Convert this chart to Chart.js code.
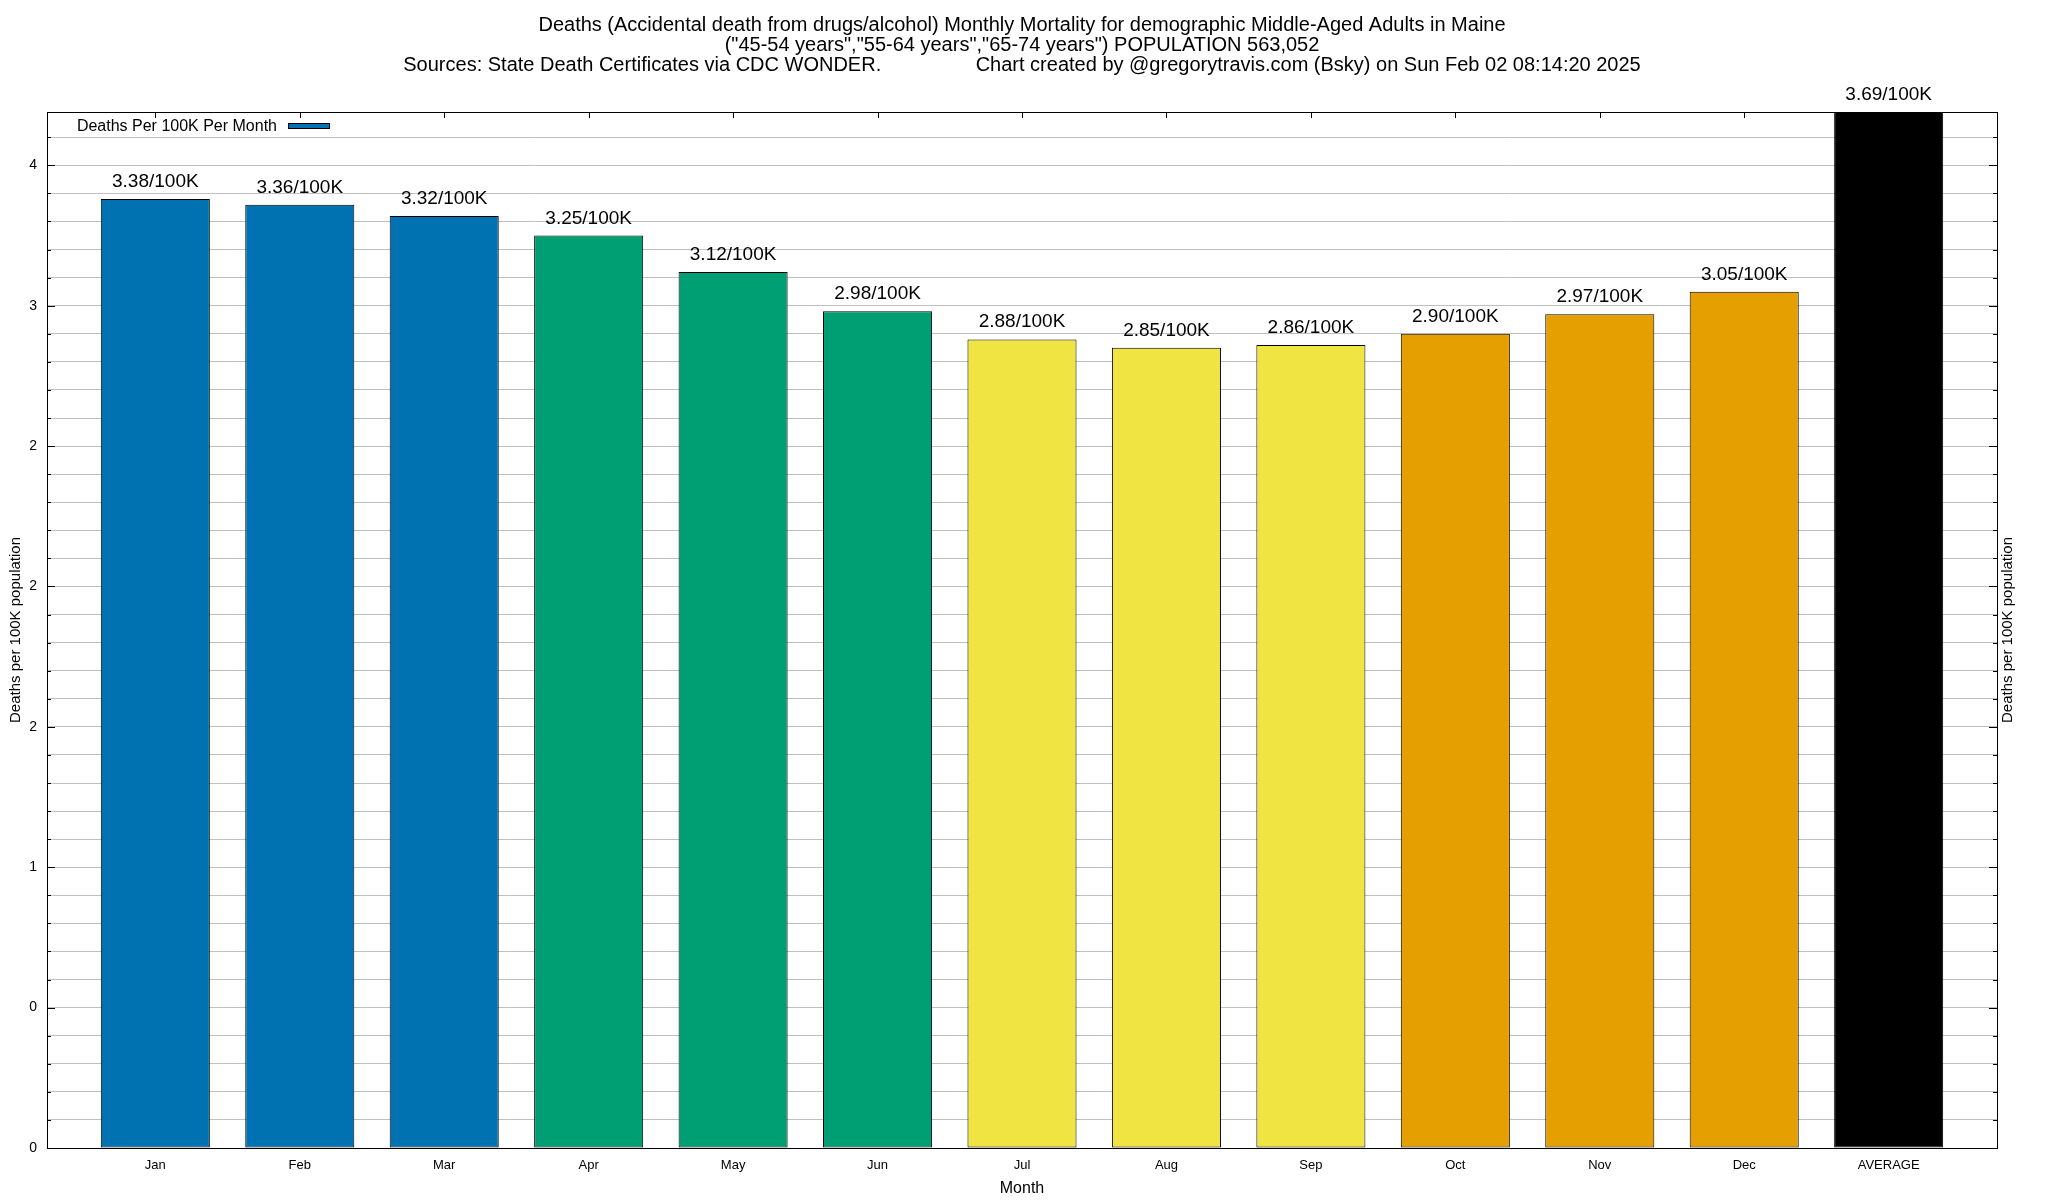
<!DOCTYPE html>
<html>
<head>
<meta charset="utf-8">
<script src="https://cdn.jsdelivr.net/npm/chart.js@4/dist/chart.umd.min.js"></script>
<style>
  html, body { margin: 0; padding: 0; background: #fff; }
  canvas { display: block; }
</style>
</head>
<body>
<canvas id="graph-mortality" width="2048" height="1200"></canvas>
<script>
// chart data
const months = ['Jan', 'Feb', 'Mar', 'Apr', 'May', 'Jun', 'Jul', 'Aug', 'Sep', 'Oct', 'Nov', 'Dec', 'AVERAGE'];
const rates = [3.38, 3.36, 3.32, 3.25, 3.12, 2.98, 2.88, 2.85, 2.86, 2.90, 2.97, 3.05, 3.69];
const barColors = ['#0072b2', '#0072b2', '#0072b2', '#009e73', '#009e73', '#009e73',
                   '#f0e442', '#f0e442', '#f0e442', '#e69f00', '#e69f00', '#e69f00', '#000000'];
const yTickValues = [0, 0.5, 1, 1.5, 2, 2.5, 3, 3.5];
const yTickLabels = ['0', '0', '1', '2', '2', '2', '3', '4'];
const yMax = 3.69;
const yMinorStep = 0.1;

const titleLines = [
  'Deaths (Accidental death from drugs/alcohol) Monthly Mortality for demographic Middle-Aged Adults in Maine',
  '("45-54 years","55-64 years","65-74 years") POPULATION 563,052',
  'Sources: State Death Certificates via CDC WONDER.                 Chart created by @gregorytravis.com (Bsky) on Sun Feb 02 08:14:20 2025'
];
const seriesLabel = 'Deaths Per 100K Per Month';
const axisLabel = 'Deaths per 100K population';

const FONT = '"Liberation Sans", Arial, Helvetica, sans-serif';

// minor grid positions (every 0.1)
const yGridValues = [];
for (let v = 0; v <= yMax + 1e-9; v += yMinorStep) {
  yGridValues.push(Math.round(v * 10) / 10);
}

function isMajor(v) {
  return yTickValues.indexOf(v) >= 0;
}

// title, legend, right-hand axis title
const decorations = {
  id: 'decorations',
  afterDraw(chart) {
    const ctx = chart.ctx;
    const area = chart.chartArea;
    const midX = (area.left + area.right) / 2;
    ctx.save();
    ctx.fillStyle = '#000';
    ctx.textAlign = 'center';
    ctx.textBaseline = 'middle';
    ctx.font = '20px ' + FONT;
    titleLines.forEach((line, i) => {
      ctx.fillText(line, midX, 25 + i * 20);
    });

    // legend (text then sample)
    ctx.font = '16px ' + FONT;
    ctx.textAlign = 'right';
    ctx.fillText(seriesLabel, 277, 127);
    ctx.fillStyle = barColors[0];
    ctx.fillRect(288, 123, 41, 5);
    ctx.strokeStyle = '#000';
    ctx.lineWidth = 1;
    ctx.strokeRect(288.5, 123.5, 41, 5);

    // right axis title
    ctx.fillStyle = '#000';
    ctx.font = '15px ' + FONT;
    ctx.textAlign = 'center';
    ctx.translate(2008, (area.top + area.bottom) / 2);
    ctx.rotate(-Math.PI / 2);
    ctx.fillText(axisLabel, 0, 0);
    ctx.restore();
  }
};

// value labels above the bars
const barLabels = {
  id: 'barLabels',
  afterDatasetsDraw(chart) {
    const ctx = chart.ctx;
    const meta = chart.getDatasetMeta(0);
    ctx.save();
    ctx.font = '19px ' + FONT;
    ctx.fillStyle = '#000';
    ctx.textAlign = 'center';
    ctx.textBaseline = 'alphabetic';
    meta.data.forEach((bar, i) => {
      ctx.fillText(rates[i].toFixed(2) + '/100K', bar.x, bar.y - 12);
    });
    ctx.restore();
  }
};

// plot border and inward tics like gnuplot
const frame = {
  id: 'frame',
  afterDraw(chart) {
    const ctx = chart.ctx;
    const a = chart.chartArea;
    const y = chart.scales.y;
    const x = chart.scales.x;
    ctx.save();
    ctx.strokeStyle = '#000';
    ctx.lineWidth = 1;
    ctx.beginPath();
    yGridValues.forEach(v => {
      const py = Math.round(y.getPixelForValue(v)) + 0.5;
      const len = isMajor(v) ? 8 : 4;
      ctx.moveTo(a.left, py);
      ctx.lineTo(a.left + len, py);
      ctx.moveTo(a.right, py);
      ctx.lineTo(a.right - len, py);
    });
    months.forEach((m, i) => {
      const px = Math.round(x.getPixelForValue(i)) + 0.5;
      ctx.moveTo(px, a.top);
      ctx.lineTo(px, a.top + 6);
    });
    ctx.stroke();
    ctx.strokeRect(Math.round(a.left) + 0.5, Math.round(a.top) + 0.5,
                   Math.round(a.right - a.left), Math.round(a.bottom - a.top));
    ctx.restore();
  }
};

var graphMortality = document.getElementById('graph-mortality').getContext('2d');
var mortality = new Chart(graphMortality, {
  type: 'bar',
  data: {
    datasets: [{
      label: seriesLabel,
      data: months.map((m, i) => ({ x: i, y: rates[i] })),
      backgroundColor: barColors,
      borderColor: '#000',
      borderWidth: 1,
      borderSkipped: false,
      categoryPercentage: 1,
      barPercentage: 0.755
    }]
  },
  options: {
    responsive: false,
    animation: false,
    devicePixelRatio: 1,
    layout: { padding: { top: 112, left: 0, right: 0, bottom: 0 } },
    plugins: {
      legend: { display: false },
      title: { display: false },
      tooltip: { enabled: false }
    },
    scales: {
      x: {
        type: 'linear',
        offset: false,
        min: -0.75,
        max: months.length - 0.25,
        afterBuildTicks: scale => { scale.ticks = months.map((m, i) => ({ value: i })); },
        afterFit: scale => { scale.height = 52; },
        grid: { display: false, drawTicks: false, offset: false },
        border: { display: false },
        ticks: {
          autoSkip: false,
          maxRotation: 0,
          padding: 10,
          color: '#000',
          font: { family: FONT, size: 13 },
          callback: v => months[v]
        },
        title: {
          display: true,
          text: 'Month',
          color: '#000',
          font: { family: FONT, size: 16 },
          padding: { top: 0, bottom: 2 }
        }
      },
      y: {
        position: 'left',
        min: 0,
        max: yMax,
        afterBuildTicks: scale => { scale.ticks = yGridValues.map(v => ({ value: v })); },
        afterFit: scale => { scale.width = 47; },
        grid: { color: '#c0c0c0', lineWidth: 1, drawTicks: false },
        border: { display: false },
        ticks: {
          autoSkip: false,
          padding: 10,
          color: '#000',
          font: { family: FONT, size: 14 },
          callback: v => (isMajor(v) ? yTickLabels[yTickValues.indexOf(v)] : '')
        },
        title: {
          display: true,
          text: axisLabel,
          color: '#000',
          font: { family: FONT, size: 15 },
          padding: { top: 7, bottom: 0 }
        }
      },
      y2: {
        position: 'right',
        min: 0,
        max: yMax,
        afterFit: scale => { scale.width = 51; },
        grid: { display: false, drawOnChartArea: false, drawTicks: false },
        border: { display: false },
        ticks: { display: false }
      }
    }
  },
  plugins: [decorations, barLabels, frame]
});
</script>
</body>
</html>
